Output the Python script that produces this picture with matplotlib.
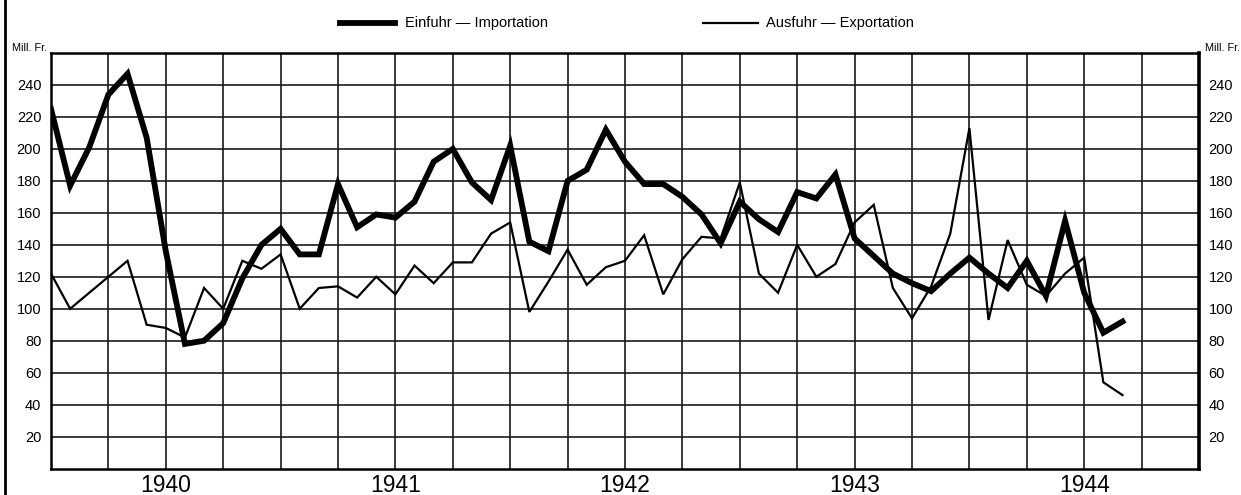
import matplotlib
matplotlib.use("Agg")
import matplotlib.pyplot as plt
from matplotlib.lines import Line2D

plt.rcParams['font.family'] = ['Liberation Sans', 'DejaVu Sans']

# Monthly values, Jan 1940 .. Sep 1944 (Mill. Fr.)
imports = [225, 177, 201, 234, 247, 207, 136, 78, 80, 91, 119, 140,
           150, 134, 134, 178, 151, 159, 157, 167, 192, 200, 179, 168,
           202, 142, 136, 180, 187, 212, 192, 178, 178, 170, 159, 141,
           167, 156, 148, 173, 169, 184, 144, 133, 122, 116, 111, 122,
           132, 122, 113, 130, 108, 155, 110, 85, 92]
exports = [122, 100, 110, 120, 130, 90, 88, 82, 113, 100, 130, 125,
           134, 100, 113, 114, 107, 120, 109, 127, 116, 129, 129, 147,
           154, 98, 117, 137, 115, 126, 130, 146, 109, 131, 145, 144,
           179, 122, 110, 140, 120, 128, 154, 165, 113, 94, 114, 147,
           213, 93, 143, 115, 108, 122, 132, 54, 46]
years = ['1940', '1941', '1942', '1943', '1944']
y_ticks = [20, 40, 60, 80, 100, 120, 140, 160, 180, 200, 220, 240]
legend_labels = ['Einfuhr \u2014 Importation', 'Ausfuhr \u2014 Exportation']

W, H = 1241, 495
fig = plt.figure(figsize=(W / 100, H / 100), dpi=100)
ax = fig.add_axes([51 / W, 1 - 468.6 / H, (1199 - 51) / W, (468.6 - 53) / H])

months = list(range(len(imports)))
ax.plot(months, imports, color='black', lw=4.2, solid_joinstyle='miter', zorder=4)
ax.plot(months, exports, color='black', lw=1.6, solid_joinstyle='miter', zorder=3)

ax.set_xlim(0, 60)
ax.set_ylim(0, 260)

for yv in y_ticks:
    ax.axhline(yv, color='#1a1a1a', lw=1.2, zorder=1)
for xv in range(3, 60, 3):
    ax.axvline(xv, color='#1a1a1a', lw=1.2, zorder=1)

for side, s in ax.spines.items():
    s.set_color('black')
    s.set_linewidth(1.8)
ax.spines['right'].set_linewidth(2.6)

ax.set_xticks([6 + 12 * k for k in range(len(years))])
ax.set_xticklabels(years, fontsize=16.5)
ax.tick_params(axis='x', length=0, pad=4)
ax.set_yticks(y_ticks)
ax.set_yticklabels([str(v) for v in y_ticks], fontsize=10.5)
ax.tick_params(axis='y', length=0, pad=7, left=False, right=False,
               labelleft=True, labelright=True)

# "Mill. Fr." unit labels
fig.text(12 / W, 1 - 48 / H, 'Mill. Fr.', fontsize=7.8, va='center', ha='left')
fig.text(1205 / W, 1 - 48 / H, 'Mill. Fr.', fontsize=7.8, va='center', ha='left')

# Legend (manual, as in reference)
ly = 1 - 23 / H
fig.add_artist(Line2D([340 / W, 395 / W], [ly, ly], color='black', lw=4.2))
fig.text(405 / W, ly, legend_labels[0], fontsize=10.5, va='center', ha='left')
fig.add_artist(Line2D([703 / W, 758 / W], [ly, ly], color='black', lw=1.6))
fig.text(766 / W, ly, legend_labels[1], fontsize=10.5, va='center', ha='left')

# page border at left
fig.add_artist(Line2D([5 / W, 5 / W], [0, 1], color='black', lw=2.0))

fig.savefig('out.png', dpi=100)
